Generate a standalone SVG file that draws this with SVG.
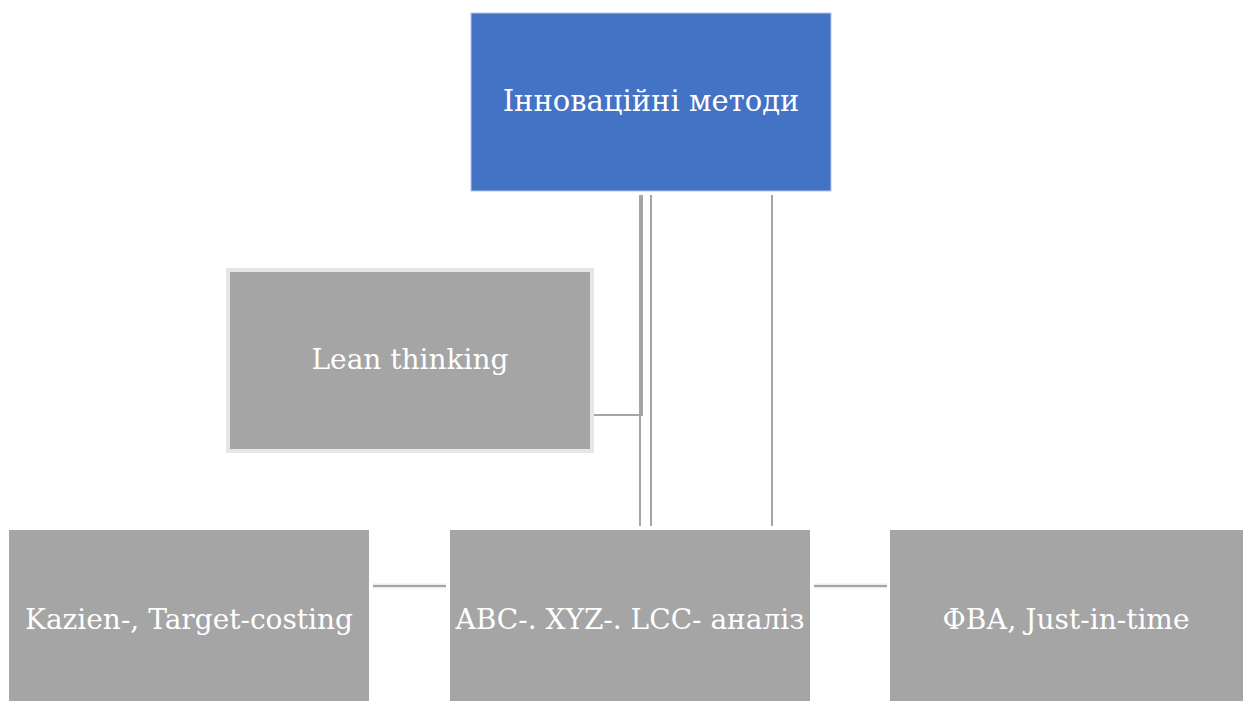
<svg xmlns="http://www.w3.org/2000/svg" width="1243" height="701" viewBox="0 0 1243 701">
<style>
.box{fill:#a5a5a5}
.t{font-family:"DejaVu Serif","Liberation Serif",serif;font-size:28px;fill:#ffffff;text-anchor:middle}
.c{stroke:#a5a5a5;stroke-width:2;fill:none}
.halo{stroke:#ececec;stroke-width:5;fill:none}
</style>
<rect width="1243" height="701" fill="#ffffff"/>
<g id="connectors">
<line class="halo" x1="373" y1="586" x2="446" y2="586"/>
<line class="c" x1="373" y1="586" x2="446" y2="586"/>
<line class="halo" x1="814" y1="586" x2="887" y2="586"/>
<line class="c" x1="814" y1="586" x2="887" y2="586"/>
<line class="c" x1="640" y1="195" x2="640" y2="526"/>
<line class="c" stroke-width="3" x1="642" y1="195" x2="642" y2="416"/>
<line class="c" x1="594" y1="415" x2="643" y2="415"/>
<line class="c" x1="651" y1="195" x2="651" y2="526"/>
<line class="c" x1="772" y1="195" x2="772" y2="526"/>
</g>
<g id="node-innov">
<rect x="471" y="13" width="360" height="178" fill="#4472c4" stroke="#b4c7e7" stroke-width="1"/>
<text class="t" x="651" y="111" style="font-size:29px">Інноваційні методи</text>
</g>
<g id="node-lean">
<rect x="228" y="270" width="364" height="181" fill="#a5a5a5" stroke="#e6e6e6" stroke-width="4"/>
<text class="t" x="410" y="369">Lean thinking</text>
</g>
<g id="node-kazien">
<rect class="box" x="9" y="530" width="360" height="171"/>
<text class="t" x="189" y="629">Kazien-, Target-costing</text>
</g>
<g id="node-abc">
<rect class="box" x="450" y="530" width="360" height="171"/>
<text class="t" x="630" y="629">ABC-. XYZ-. LCC- аналіз</text>
</g>
<g id="node-fva">
<rect class="box" x="890" y="530" width="353" height="171"/>
<text class="t" x="1066" y="629">ФВА, Just-in-time</text>
</g>
</svg>
